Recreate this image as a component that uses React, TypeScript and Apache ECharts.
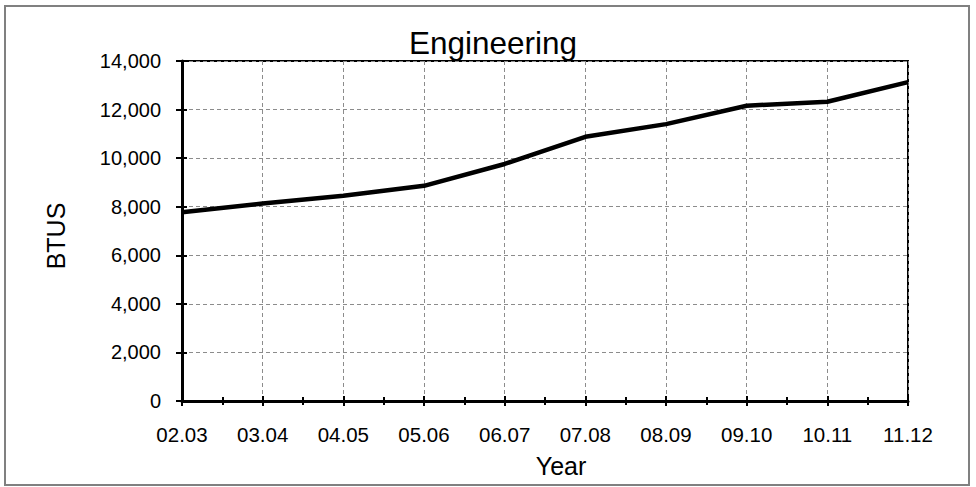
import React, { useEffect, useRef } from "react";
import * as echarts from "echarts";

const categories = ["02.03", "03.04", "04.05", "05.06", "06.07", "07.08", "08.09", "09.10", "10.11", "11.12"];
const btus = [7770, 8130, 8450, 8860, 9760, 10880, 11400, 12160, 12320, 13130];
const yMin = 0;
const yMax = 14000;
const yInterval = 2000;

const FONT = "'Liberation Sans', Arial, sans-serif";

export default function App() {
  const ref = useRef<HTMLDivElement>(null);

  useEffect(() => {
    if (!ref.current) return;
    const chart = echarts.init(ref.current, undefined, { renderer: "svg" });
    const seriesData = categories.map((c, i) => [i, btus[i]]);

    const xBase = {
      type: "value",
      gridIndex: 0,
      position: "bottom",
      min: 0,
      max: categories.length - 1,
      interval: 1,
    };
    const yBase = {
      type: "value",
      gridIndex: 0,
      position: "left",
      min: yMin,
      max: yMax,
      interval: yInterval,
    };

    chart.setOption({
      animation: false,
      backgroundColor: "#fff",
      textStyle: { fontFamily: FONT },
      title: {
        text: "Engineering",
        left: 409,
        top: 27,
        padding: 0,
        textStyle: { fontFamily: FONT, fontSize: 31.5, fontWeight: "normal", color: "#000" },
      },
      graphic: [
        {
          type: "rect",
          shape: { x: 5, y: 6, width: 964, height: 479 },
          style: { fill: "none", stroke: "#808080", lineWidth: 2 },
          z: 0,
        },
      ],
      grid: {
        left: 182,
        right: 68,
        top: 61,
        bottom: 86,
        show: true,
        borderColor: "#000",
        borderWidth: 2,
        backgroundColor: "transparent",
      },
      xAxis: [
        {
          ...xBase,
          name: "Year",
          nameLocation: "middle",
          nameGap: 52,
          nameTextStyle: { fontFamily: FONT, fontSize: 25, color: "#000", padding: [0, 0, 0, 32] },
          axisLine: { show: true, onZero: false, lineStyle: { color: "#000", width: 3 } },
          axisTick: { show: true, inside: false, length: 5, lineStyle: { color: "#000", width: 2 } },
          minorTick: { show: true, splitNumber: 2, length: 4, lineStyle: { color: "#000", width: 2 } },
          axisLabel: {
            show: true,
            margin: 23,
            fontFamily: FONT,
            fontSize: 20.5,
            color: "#000",
            formatter: (v: number) => categories[Math.round(v)] ?? "",
          },
          splitLine: { show: true, lineStyle: { color: "#8c8c8c", width: 1, type: [4, 3] } },
          z: 5,
        },
        {
          ...xBase,
          axisLine: { show: false, onZero: false },
          axisTick: { show: true, inside: true, length: 5, lineStyle: { color: "#000", width: 2 } },
          minorTick: { show: true, splitNumber: 2, length: 4, lineStyle: { color: "#000", width: 2 } },
          axisLabel: { show: false },
          splitLine: { show: false },
          z: 5,
        },
      ],
      yAxis: [
        {
          ...yBase,
          name: "BTUS",
          nameLocation: "middle",
          nameGap: 114,
          nameRotate: 90,
          nameTextStyle: { fontFamily: FONT, fontSize: 25, color: "#000", padding: [0, 10, 0, 0] },
          axisLine: { show: true, onZero: false, lineStyle: { color: "#000", width: 3 } },
          axisTick: { show: true, inside: false, length: 6, lineStyle: { color: "#000", width: 2 } },
          axisLabel: { show: true, margin: 21, fontFamily: FONT, fontSize: 20, color: "#000" },
          splitLine: { show: true, lineStyle: { color: "#8c8c8c", width: 1, type: [4, 3] } },
          z: 5,
        },
        {
          ...yBase,
          axisLine: { show: false, onZero: false },
          axisTick: { show: true, inside: true, length: 5, lineStyle: { color: "#000", width: 2 } },
          axisLabel: { show: false },
          splitLine: { show: false },
          z: 5,
        },
      ],
      series: [
        {
          type: "line",
          xAxisIndex: 0,
          yAxisIndex: 0,
          data: seriesData,
          symbol: "none",
          lineStyle: { color: "#000", width: 4.5 },
          z: 10,
        },
      ],
    });

    return () => chart.dispose();
  }, []);

  return (
    <div
      ref={ref}
      style={{ position: "fixed", left: 0, top: 0, width: 976, height: 487, background: "#fff" }}
    />
  );
}
